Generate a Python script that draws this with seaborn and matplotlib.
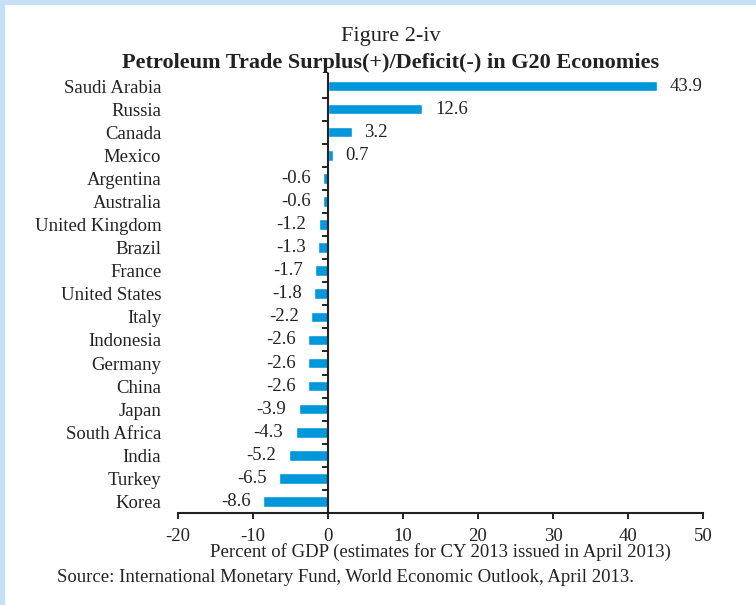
import numpy as np
import matplotlib
matplotlib.use("Agg")
import matplotlib.pyplot as plt
import seaborn as sns
from matplotlib.patches import Rectangle

# Data (percent of GDP)
countries = ["Saudi Arabia", "Russia", "Canada", "Mexico", "Argentina", "Australia",
             "United Kingdom", "Brazil", "France", "United States", "Italy", "Indonesia",
             "Germany", "China", "Japan", "South Africa", "India", "Turkey", "Korea"]
values = [43.9, 12.6, 3.2, 0.7, -0.6, -0.6, -1.2, -1.3, -1.7, -1.8, -2.2, -2.6,
          -2.6, -2.6, -3.9, -4.3, -5.2, -6.5, -8.6]
xticks = [-20, -10, 0, 10, 20, 30, 40, 50]

sns.set_style("white")
plt.rcParams["font.family"] = ["Liberation Serif", "DejaVu Serif"]
fs = 13.5
ink = "#222222"

fig = plt.figure(figsize=(7.56, 6.05), dpi=100)
ax = fig.add_axes([0.2354, 0.152, 0.6944, 0.7249])

sns.barplot(x=values, y=countries, orient="h", color="#0098DA", width=0.46,
            saturation=1, ax=ax, zorder=2)

ax.set_xlim(-20, 50)
ax.set_ylim(len(countries) - 0.5, -0.5)
ax.set_xticks(xticks)
ax.set_xticklabels([str(t) for t in xticks], fontsize=fs, color=ink)
ax.tick_params(axis="x", direction="out", length=4.5, width=1.4, pad=6,
               bottom=True, color=ink)
ax.set_yticks(range(len(countries)))
ax.set_yticklabels(countries, fontsize=fs, color=ink)
ax.tick_params(axis="y", length=0, pad=12)
ax.set_xlabel("Percent of GDP (estimates for CY 2013 issued in April 2013)",
              fontsize=fs, color=ink, labelpad=-1)
ax.set_ylabel("")
for s in ["top", "right", "left"]:
    ax.spines[s].set_visible(False)
ax.spines["bottom"].set_color(ink)
ax.spines["bottom"].set_linewidth(1.5)

# vertical axis line at zero with ticks between categories
sec = ax.secondary_yaxis(20 / 70)
sec.set_yticks(np.arange(0.5, len(countries) - 1, 1.0))
sec.set_yticklabels([])
sec.tick_params(direction="out", length=4, width=1.4, color=ink,
                left=True, right=False)
sec.spines["left"].set_color(ink)
sec.spines["left"].set_linewidth(1.5)
sec.set_zorder(3)

# value labels
for i, v in enumerate(values):
    if v >= 0:
        ax.annotate(f"{v:.1f}", (v, i), xytext=(9, 0), textcoords="offset points",
                    ha="left", va="center", fontsize=fs, color=ink)
    else:
        ax.annotate(f"{v:.1f}", (v, i), xytext=(-9, 0), textcoords="offset points",
                    ha="right", va="center", fontsize=fs, color=ink)

fig.text(391 / 756, 0.939, "Figure 2-iv", ha="center", va="center", fontsize=16,
         color=ink)
fig.text(391 / 756, 0.8965, "Petroleum Trade Surplus(+)/Deficit(-) in G20 Economies",
         ha="center", va="center", fontsize=16, fontweight="bold", color=ink)
fig.text(57 / 756, 0.046,
         "Source: International Monetary Fund, World Economic Outlook, April 2013.",
         ha="left", va="center", fontsize=fs, color=ink)

# light blue frame on top and left
fig.patches.append(Rectangle((0, 1 - 4 / 605), 1, 4 / 605, transform=fig.transFigure,
                             color="#C6E1F6", zorder=0))
fig.patches.append(Rectangle((0, 0), 4 / 756, 1, transform=fig.transFigure,
                             color="#C6E1F6", zorder=0))

fig.savefig("out.png", dpi=100)
